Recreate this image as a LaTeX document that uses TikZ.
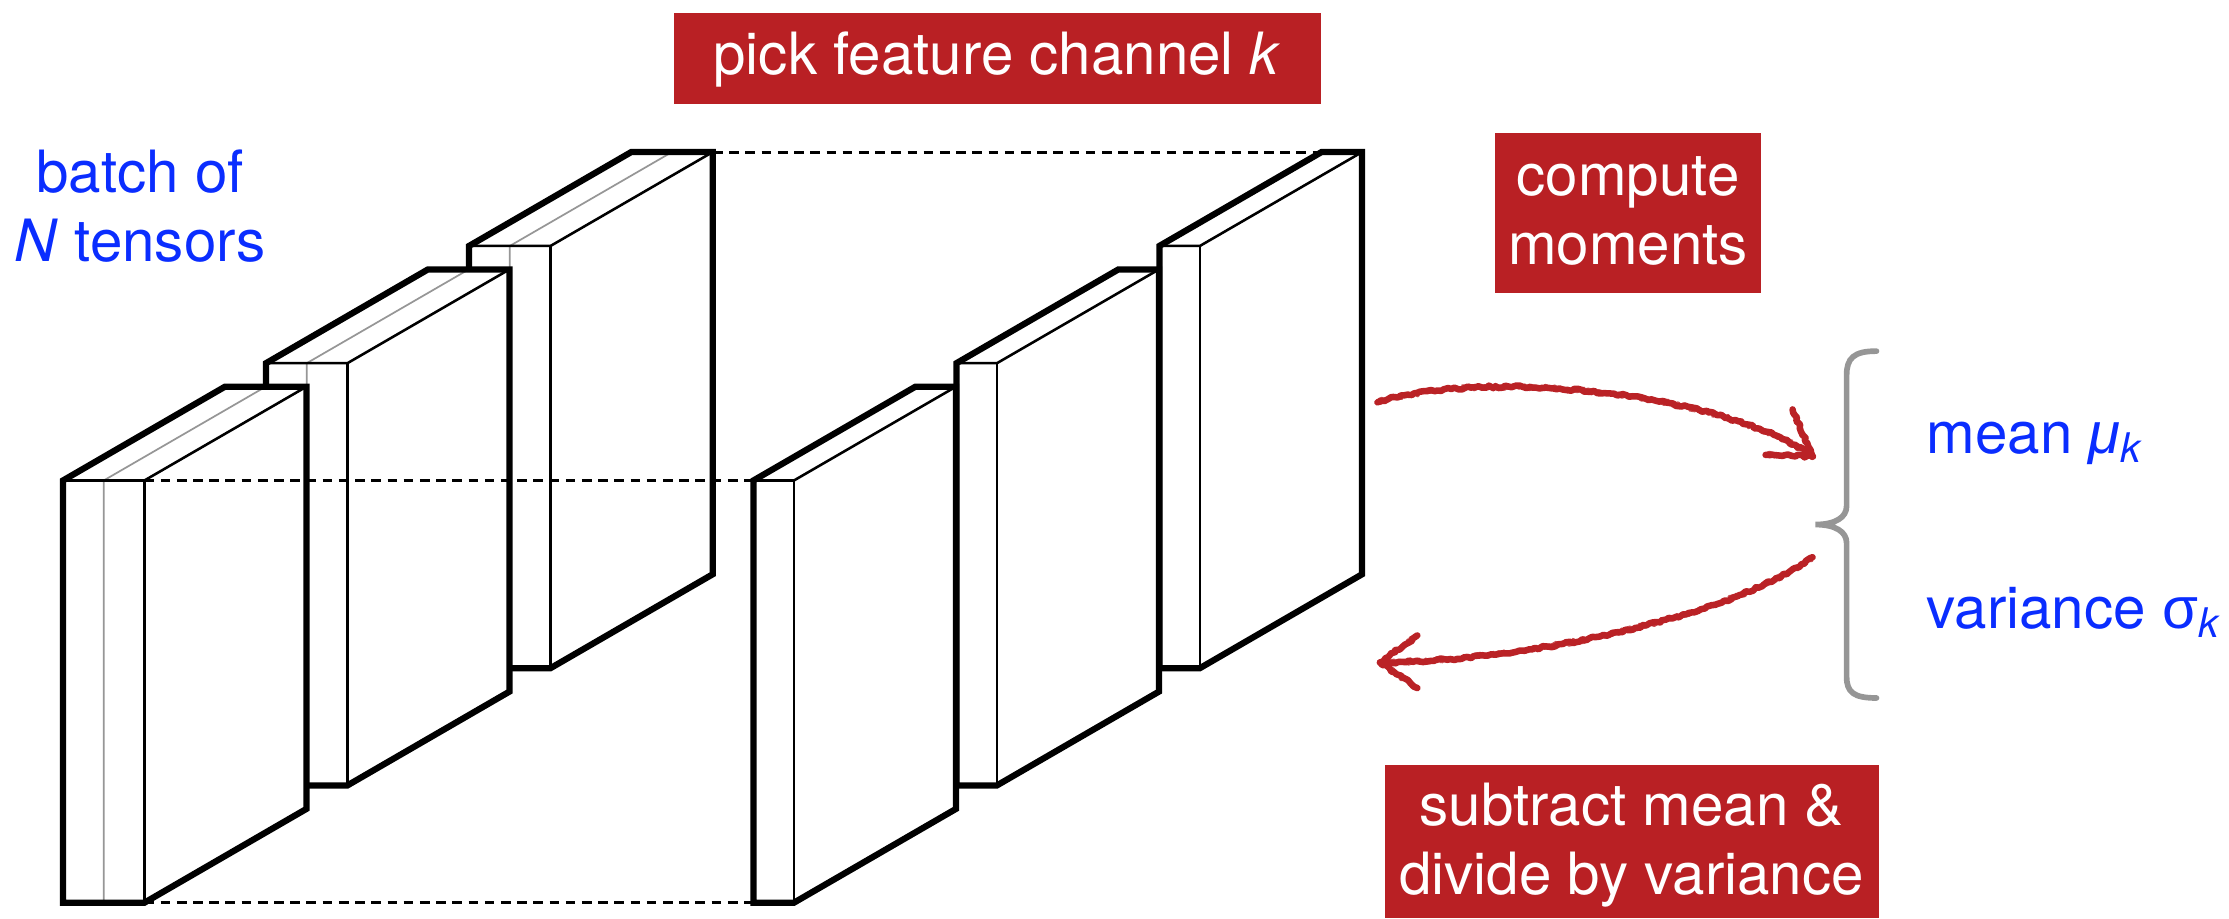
\documentclass[tikz,border=0pt]{standalone}
\usepackage{fontspec}
\setmainfont{TeX Gyre Heros}
\newfontfamily\greekfont{Liberation Sans}
\usetikzlibrary{decorations.pathmorphing}

\definecolor{boxred}{RGB}{185,32,36}
\definecolor{chalkred}{RGB}{186,34,38}
\definecolor{labelblue}{RGB}{10,45,255}
\definecolor{slicegray}{RGB}{150,150,150}
\definecolor{bracegray}{RGB}{150,150,150}

\tikzset{
  thickedge/.style={line width=2.2pt, line join=miter},
  thinedge/.style={line width=0.9pt},
  sliceline/.style={slicegray, line width=0.6pt},
  guide/.style={line width=1.05pt, dash pattern=on 3.4pt off 2.3pt},
  redbox/.style={fill=boxred, text=white, inner sep=0pt, align=center},
  bluetext/.style={text=labelblue, inner sep=0pt, align=center},
  chalk/.style={chalkred, line width=2.3pt, line cap=round, line join=round,
    decorate, decoration={random steps, segment length=1.2pt, amplitude=0.45pt}},
  chalkgrain/.style={chalkred, line width=1.2pt, line cap=round, line join=round, opacity=0.8,
    decorate, decoration={random steps, segment length=0.8pt, amplitude=0.9pt}},
  bracestyle/.style={bracegray, line width=2pt, line cap=round},
}

% one feature slab: front top-left corner (#1,#2), front width #3,
% #4 = 1 draws the grey channel slice
\newcommand{\drawslab}[4]{%
  \fill[white] (#1,#2) -- ++(114,-66) -- ++(#3,0) -- ++(0,297) -- ++(-114,66) -- ++(-#3,0) -- cycle;
  \ifnum#4=1
    \draw[sliceline] ({#1+#3/2},{#2+297}) -- ({#1+#3/2},#2) -- ++(114,-66);
  \fi
  \draw[thinedge] (#1,#2) -- ++(#3,0) -- ++(114,-66);
  \draw[thinedge] ({#1+#3},#2) -- ++(0,297);
  \draw[thickedge] (#1,#2) -- ++(114,-66) -- ++(#3,0) -- ++(0,297) -- ++(-114,66) -- ++(-#3,0) -- cycle;
}

\begin{document}
\begin{tikzpicture}[x=0.5pt, y=-0.5pt,
  every node/.style={font=\fontsize{20.5pt}{24.5pt}\selectfont}]
\useasboundingbox (0,0) rectangle (1568,646);

% full tensors of the batch, back to front
\drawslab{330}{173}{57.3}{1}
\drawslab{187.1}{255.5}{57.3}{1}
\drawslab{44.3}{338}{57.3}{1}

% the selected channel of each tensor, back to front
\drawslab{815.6}{173}{28.5}{0}
\drawslab{672.8}{255.5}{28.5}{0}
\drawslab{530}{338}{28.5}{0}

% corners joined by the guide lines
\coordinate (backL) at (501.6,107);
\coordinate (backR) at (929.6,107);
\coordinate (topL) at (101.6,338);
\coordinate (topR) at (530,338);
\coordinate (botL) at (101.6,635);
\coordinate (botR) at (530,635);
\draw[guide] (backL) -- (backR);
\draw[guide] (topL) -- (topR);
\draw[guide] (botL) -- (botR);

% labels
\node[bluetext] (batch) at (98.5,147.8)
  {\rule[-4pt]{0pt}{20pt}batch of\\\rule[-4pt]{0pt}{20pt}\textit{N} tensors};
\node[redbox, minimum width=227.5pt, minimum height=32pt] (pick) at (701.5,41)
  {\rule[-4pt]{0pt}{20pt}pick feature channel \textit{k}};
\node[redbox, minimum width=93.5pt, minimum height=56pt] (moments) at (1145.2,149.9)
  {\rule[-4pt]{0pt}{20pt}compute\\\rule[-4pt]{0pt}{20pt}moments};
\node[redbox, minimum width=173.8pt, minimum height=54pt] (normalize) at (1147.8,592)
  {\rule[-3.5pt]{0pt}{21pt}subtract mean \&\\\rule[-3.5pt]{0pt}{21pt}divide by variance};
\node[bluetext, anchor=base west] (mean) at (1355,319)
  {mean {\greekfont\itshape μ}\textsubscript{\textit{k}}};
\node[bluetext, anchor=base west] (variance) at (1355,442)
  {variance {\greekfont σ}\textsubscript{\textit{k}}};

% brace grouping the two moments
\draw[bracestyle] (1320,247) .. controls (1304,247) and (1299,252) .. (1299,264)
  -- (1299,356) .. controls (1299,364) and (1291,369) .. (1277,369)
  .. controls (1291,369) and (1299,374) .. (1299,382)
  -- (1299,476) .. controls (1299,487) and (1304,491) .. (1320,491);

% hand-drawn arrows: to the moments and back to the tensors
\pgfmathsetseed{7}
\coordinate (toStart) at (969,283);
\coordinate (toTip) at (1275,321);
\foreach \pen in {chalk, chalkgrain} {
  \draw[\pen] (toStart) .. controls (1050,258) and (1215,278) .. (toTip);
  \draw[\pen] (toTip) -- ++(-14,-33);
  \draw[\pen] (toTip) -- ++(-33,-1);
}

\coordinate (backStart) at (1275,392);
\coordinate (backTip) at (971,466);
\foreach \pen in {chalk, chalkgrain} {
  \draw[\pen] (backStart) .. controls (1220,432) and (1080,465) .. (backTip);
  \draw[\pen] (backTip) -- ++(26,-19);
  \draw[\pen] (backTip) -- ++(26,18);
}
\end{tikzpicture}
\end{document}
